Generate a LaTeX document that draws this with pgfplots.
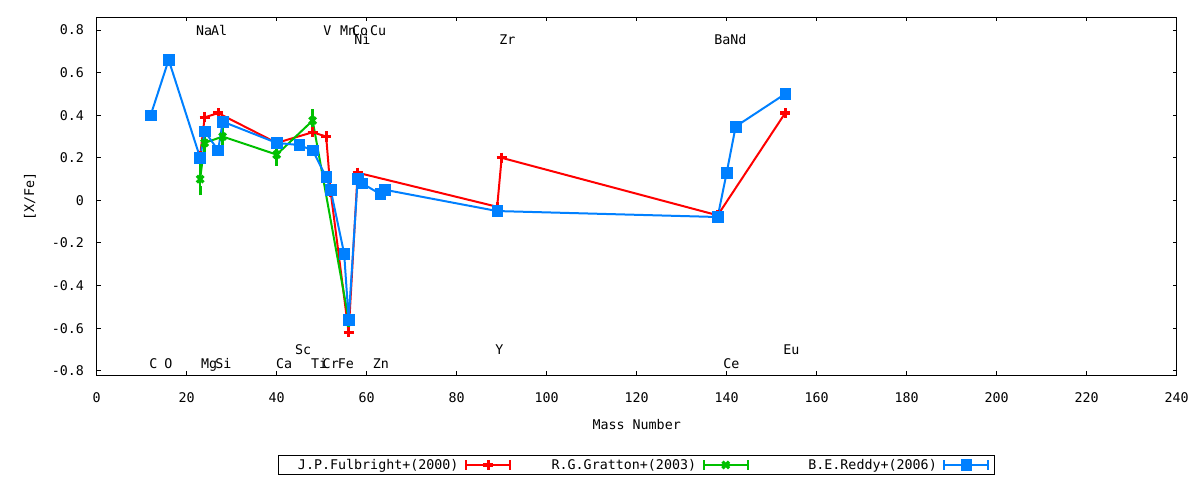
\documentclass[border=0pt]{standalone}
\usepackage{fontspec}
\setmainfont{DejaVu Sans Mono}
\usepackage{pgfplots}
\pgfplotsset{compat=1.18}
\definecolor{gpred}{RGB}{255,0,0}
\definecolor{gpgreen}{RGB}{0,192,0}
\definecolor{gpblue}{RGB}{0,128,255}
\begin{document}
\begin{tikzpicture}
\useasboundingbox (-72.5pt,-78.75pt) rectangle (827.5pt,281.25pt);
\begin{axis}[
  at={(0pt,0pt)}, anchor=south west,
  scale only axis, width=810pt, height=268.3pt,
  xmin=0, xmax=240, ymin=-0.82, ymax=0.86,
  xtick={0,20,...,240},
  ytick={-0.8,-0.6,-0.4,-0.2,0,0.2,0.4,0.6,0.8},
  tick align=inside, tick pos=both,
  major tick length=3pt,
  every tick/.style={black, line width=0.75pt},
  axis line style={line width=0.75pt},
  /pgf/number format/assume math mode=true,
  tick label style={font=\normalsize},
  yticklabel style={xshift=-6pt},
  xticklabel style={yshift=-9.5pt},
  xlabel={Mass Number}, ylabel={[X/Fe]},
  xlabel style={at={(axis description cs:0.5,-0.1398)}, anchor=center},
  ylabel style={at={(axis description cs:-0.0618,0.5)}, anchor=center},
  legend columns=3,
  legend plot pos=right,
  legend style={at={(axis description cs:0.5,-0.2237)}, anchor=north, draw=black, line width=0.75pt,
    inner xsep=4pt, inner ysep=2.5pt, column sep=0pt, nodes={inner sep=0pt, text depth=0.15em}},
  legend image code/.code={%
    \draw[#1, mark=none] (0pt,0pt) -- (33pt,0pt);
    \draw[#1, mark=none] (0pt,-3.5pt) -- (0pt,3.5pt) (33pt,-3.5pt) -- (33pt,3.5pt);
    \draw[#1] plot coordinates {(16.5pt,0pt)};
  },
]
% J.P.Fulbright+(2000)
\addplot[gpred, line width=1.5pt, mark=+, mark size=3.8pt, mark options={solid, line width=2.4pt}]
 coordinates {(23,0.21)(24,0.39)(27,0.41)(40,0.27)(48,0.32)(51,0.30)(52,0.04)(56,-0.62)(58,0.13)(89,-0.03)(90,0.20)(138,-0.07)(153,0.41)};
\addlegendentry{\makebox[131pt][r]{J.P.Fulbright+(2000)}\hspace*{5pt}}
% R.G.Gratton+(2003)
\addplot[gpgreen, line width=1.5pt, mark=x, mark size=3.5pt, mark options={solid, line width=2.4pt},
  error bars/.cd, y dir=both, y explicit,
  error bar style={line width=1.8pt, gpgreen},
  error mark options={line width=2pt, mark size=3.5pt, gpgreen}]
 coordinates {(23,0.10) +- (0,0.055) (24,0.27) +- (0,0.045) (28,0.30) +- (0,0.05) (40,0.215) +- (0,0.03) (48,0.375) +- (0,0.03) (56,-0.56) +- (0,0.05)};
\addlegendentry{\makebox[138.7pt][r]{R.G.Gratton+(2003)}\hspace*{5pt}}
% B.E.Reddy+(2006)
\addplot[gpblue, line width=1.5pt, mark=square*, mark size=4pt, mark options={solid, line width=0.5pt}]
 coordinates {(12,0.40)(16,0.66)(23,0.20)(24,0.325)(27,0.235)(28,0.37)(40,0.27)(45,0.26)(48,0.235)(51,0.11)(52,0.05)(55,-0.25)(56,-0.56)(58,0.10)(59,0.08)(63,0.03)(64,0.05)(89,-0.05)(138,-0.078)(140,0.13)(142,0.347)(153,0.50)};
\addlegendentry{\makebox[141pt][r]{B.E.Reddy+(2006)}\hspace*{5pt}}
% element labels
\node[anchor=base west] at (axis cs:21.06,0.774) {Na};
\node[anchor=base west] at (axis cs:24.39,0.774) {Al};
\node[anchor=base west] at (axis cs:49.35,0.774) {V};
\node[anchor=base west] at (axis cs:53.06,0.774) {Mn};
\node[anchor=base west] at (axis cs:55.73,0.774) {Co};
\node[anchor=base west] at (axis cs:59.73,0.774) {Cu};
\node[anchor=base west] at (axis cs:56.24,0.730) {Ni};
\node[anchor=base west] at (axis cs:88.46,0.732) {Zr};
\node[anchor=base west] at (axis cs:136.24,0.732) {Ba};
\node[anchor=base west] at (axis cs:139.79,0.732) {Nd};
\node[anchor=base west] at (axis cs:10.68,-0.788) {C};
\node[anchor=base west] at (axis cs:14.02,-0.788) {O};
\node[anchor=base west] at (axis cs:22.17,-0.788) {Mg};
\node[anchor=base west] at (axis cs:25.35,-0.788) {Si};
\node[anchor=base west] at (axis cs:38.84,-0.788) {Ca};
\node[anchor=base west] at (axis cs:43.06,-0.726) {Sc};
\node[anchor=base west] at (axis cs:46.62,-0.788) {Ti};
\node[anchor=base west] at (axis cs:49.19,-0.788) {Cr};
\node[anchor=base west] at (axis cs:52.53,-0.788) {Fe};
\node[anchor=base west] at (axis cs:60.31,-0.788) {Zn};
\node[anchor=base west] at (axis cs:87.57,-0.726) {Y};
\node[anchor=base west] at (axis cs:138.24,-0.788) {Ce};
\node[anchor=base west] at (axis cs:151.57,-0.726) {Eu};
\end{axis}
\end{tikzpicture}
\end{document}
